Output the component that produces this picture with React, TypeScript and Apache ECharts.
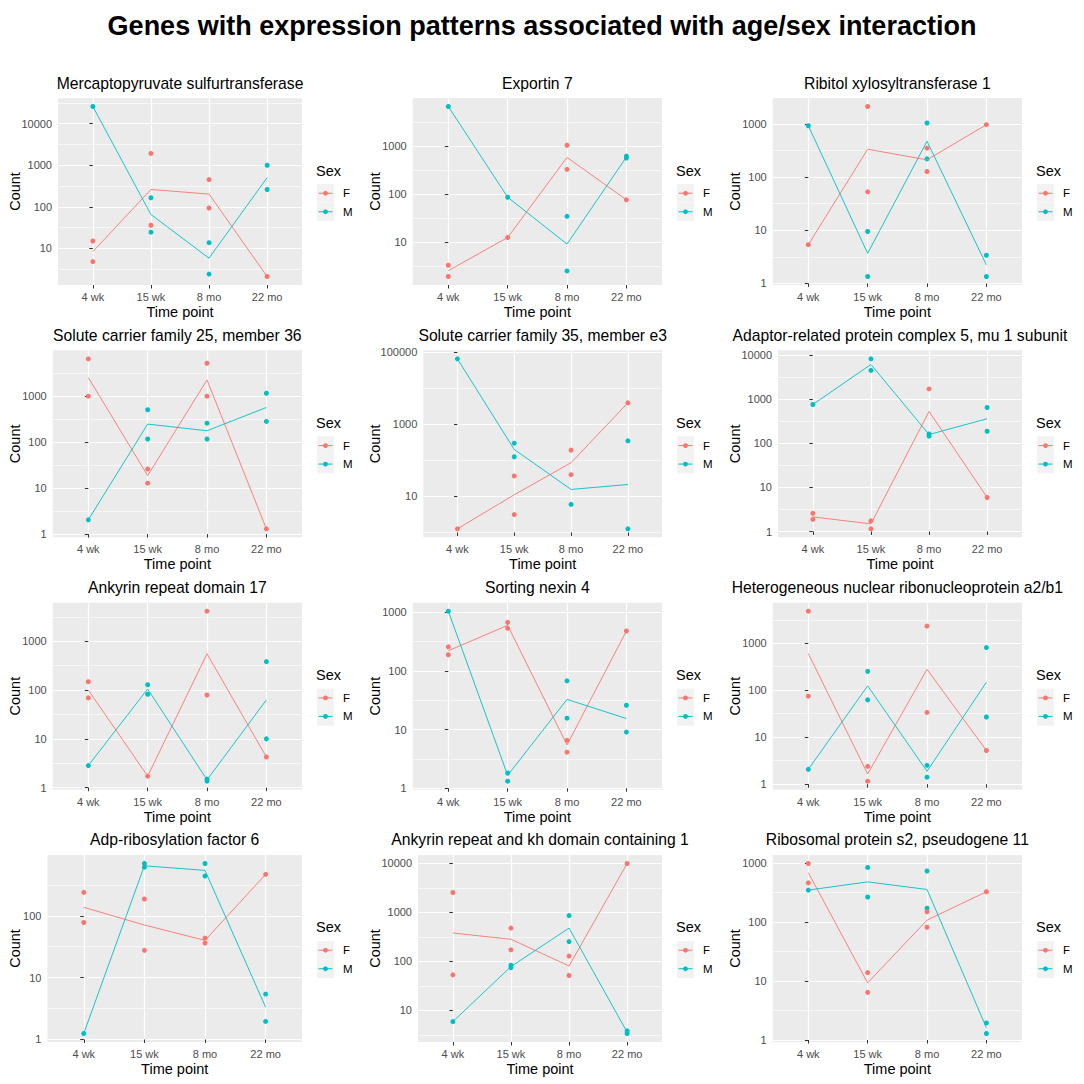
import React, { useEffect, useRef } from "react";
import * as echarts from "echarts";

// ---------- text ----------
const mainTitle = "Genes with expression patterns associated with age/sex interaction";
const categories = ["4 wk", "15 wk", "8 mo", "22 mo"];
const sexes = ["F", "M"];
const xTitle = "Time point";
const yTitle = "Count";
const legendTitle = "Sex";
const geneTitles = [
  "Mercaptopyruvate sulfurtransferase",
  "Exportin 7",
  "Ribitol xylosyltransferase 1",
  "Solute carrier family 25, member 36",
  "Solute carrier family 35, member e3",
  "Adaptor-related protein complex 5, mu 1 subunit",
  "Ankyrin repeat domain 17",
  "Sorting nexin 4",
  "Heterogeneous nuclear ribonucleoprotein a2/b1",
  "Adp-ribosylation factor 6",
  "Ankyrin repeat and kh domain containing 1",
  "Ribosomal protein s2, pseudogene 11",
];

// ---------- data: [time point index, count] ----------
// 1 Mercaptopyruvate sulfurtransferase
const p1F = [[0, 15], [0, 4.8], [1, 1920], [1, 36], [2, 452], [2, 93.5], [3, 2.1]];
const p1M = [[0, 25900], [1, 165], [1, 24.5], [2, 13.7], [2, 2.4], [3, 1000], [3, 261]];
const p1FMean = [8.3, 261, 202, 2.1];
const p1MMean = [25900, 65, 5.8, 505];
const p1Ticks = [10, 100, 1000, 10000];

// 2 Exportin 7
const p2F = [[0, 3.24], [0, 1.89], [1, 12.3], [2, 1030], [2, 324], [3, 75]];
const p2M = [[0, 6620], [1, 85], [2, 34], [2, 2.47], [3, 611], [3, 556]];
const p2FMean = [2.5, 12.3, 574, 75];
const p2MMean = [6620, 85, 8.96, 583];
const p2Ticks = [10, 100, 1000];

// 3 Ribitol xylosyltransferase 1
const p3F = [[0, 5.36], [1, 2140], [1, 53], [2, 351], [2, 128], [3, 972]];
const p3M = [[0, 930], [1, 9.5], [1, 1.35], [2, 1045], [2, 221], [3, 3.39], [3, 1.35]];
const p3FMean = [5.36, 336, 212, 972];
const p3MMean = [930, 3.69, 474, 2.23];
const p3Ticks = [1, 10, 100, 1000];

// 4 Solute carrier family 25, member 36
const p4F = [[0, 6500], [0, 1000], [1, 26], [1, 12.8], [2, 5200], [2, 1000], [3, 1.3]];
const p4M = [[0, 2.04], [1, 506], [1, 117], [2, 259], [2, 117], [3, 1160], [3, 282]];
const p4FMean = [2540, 18.7, 2260, 1.3];
const p4MMean = [2.04, 247, 177, 568];
const p4Ticks = [1, 10, 100, 1000];

// 5 Solute carrier family 35, member e3
const p5F = [[0, 1.26], [1, 37], [1, 3.13], [2, 192], [2, 40], [3, 3950]];
const p5M = [[0, 65600], [1, 300], [1, 126], [2, 6.0], [3, 348], [3, 1.26]];
const p5FMean = [1.26, 11.1, 86, 3950];
const p5MMean = [65600, 201, 15.6, 21.4];
const p5Ticks = [10, 1000, 100000];

// 6 Adaptor-related protein complex 5, mu 1 subunit
const p6F = [[0, 2.58], [0, 1.89], [1, 1.74], [1, 1.15], [2, 1690], [3, 5.9]];
const p6M = [[0, 752], [1, 8130], [1, 4450], [2, 162], [2, 144], [3, 644], [3, 186]];
const p6FMean = [2.14, 1.49, 524, 5.9];
const p6MMean = [752, 6070, 157, 358];
const p6Ticks = [1, 10, 100, 1000, 10000];

// 7 Ankyrin repeat domain 17
const p7F = [[0, 148], [0, 69], [1, 1.72], [2, 4120], [2, 79], [3, 4.25]];
const p7M = [[0, 2.84], [1, 128], [1, 82], [2, 1.5], [2, 1.36], [3, 381], [3, 10]];
const p7FMean = [100, 1.72, 553, 4.25];
const p7MMean = [2.84, 105, 1.45, 62.7];
const p7Ticks = [1, 10, 100, 1000];

// 8 Sorting nexin 4
const p8F = [[0, 257], [0, 188], [1, 670], [1, 530], [2, 6.56], [2, 4.11], [3, 477]];
const p8M = [[0, 1040], [1, 1.82], [1, 1.32], [2, 67.6], [2, 15.6], [3, 25.9], [3, 9.06]];
const p8FMean = [220, 596, 5.47, 477];
const p8MMean = [1040, 1.66, 32.7, 15.4];
const p8Ticks = [1, 10, 100, 1000];

// 9 Heterogeneous nuclear ribonucleoprotein a2/b1
const p9F = [[0, 4820], [0, 74.6], [1, 2.4], [1, 1.16], [2, 2320], [2, 33.7], [3, 5.22]];
const p9M = [[0, 2.07], [1, 252], [1, 62.5], [2, 2.52], [2, 1.41], [3, 810], [3, 26.9]];
const p9FMean = [605, 1.65, 278, 5.22];
const p9MMean = [2.07, 124, 1.88, 148];
const p9Ticks = [1, 10, 100, 1000];

// 10 Adp-ribosylation factor 6
const p10F = [[0, 239], [0, 78], [1, 187], [1, 27.6], [2, 43.5], [2, 36.2], [3, 468]];
const p10M = [[0, 1.25], [1, 701], [1, 612], [2, 701], [2, 440], [3, 5.42], [3, 1.96]];
const p10FMean = [137, 71, 40, 468];
const p10MMean = [1.25, 644, 542, 3.32];
const p10Ticks = [1, 10, 100];

// 11 Ankyrin repeat and kh domain containing 1
const p11F = [[0, 2560], [0, 53.3], [1, 481], [1, 173], [2, 129], [2, 51.7], [3, 10000]];
const p11M = [[0, 5.92], [1, 83.6], [1, 75], [2, 865], [2, 255], [3, 3.84], [3, 3.39]];
const p11FMean = [381, 284, 81, 10000];
const p11MMean = [5.92, 78.6, 481, 3.6];
const p11Ticks = [10, 100, 1000, 10000];

// 12 Ribosomal protein s2, pseudogene 11
const p12F = [[0, 987], [0, 463], [1, 13.9], [1, 6.43], [2, 150], [2, 81.7], [3, 327]];
const p12M = [[0, 349], [1, 846], [1, 267], [2, 735], [2, 172], [3, 1.95], [3, 1.29]];
const p12FMean = [689, 9.33, 108, 327];
const p12MMean = [349, 481, 358, 1.61];
const p12Ticks = [1, 10, 100, 1000];

const panels = [
  { f: p1F, m: p1M, fMean: p1FMean, mMean: p1MMean, ticks: p1Ticks },
  { f: p2F, m: p2M, fMean: p2FMean, mMean: p2MMean, ticks: p2Ticks },
  { f: p3F, m: p3M, fMean: p3FMean, mMean: p3MMean, ticks: p3Ticks },
  { f: p4F, m: p4M, fMean: p4FMean, mMean: p4MMean, ticks: p4Ticks },
  { f: p5F, m: p5M, fMean: p5FMean, mMean: p5MMean, ticks: p5Ticks },
  { f: p6F, m: p6M, fMean: p6FMean, mMean: p6MMean, ticks: p6Ticks },
  { f: p7F, m: p7M, fMean: p7FMean, mMean: p7MMean, ticks: p7Ticks },
  { f: p8F, m: p8M, fMean: p8FMean, mMean: p8MMean, ticks: p8Ticks },
  { f: p9F, m: p9M, fMean: p9FMean, mMean: p9MMean, ticks: p9Ticks },
  { f: p10F, m: p10M, fMean: p10FMean, mMean: p10MMean, ticks: p10Ticks },
  { f: p11F, m: p11M, fMean: p11FMean, mMean: p11MMean, ticks: p11Ticks },
  { f: p12F, m: p12M, fMean: p12FMean, mMean: p12MMean, ticks: p12Ticks },
];

// ---------- styles ----------
const COLOR_F = "#F8766D";
const COLOR_M = "#00BFC4";
const FONT = "'Liberation Sans', Arial, Helvetica, sans-serif";
const PANEL_BG = "#EBEBEB";
const TICK_FONT = 11;

function buildOption() {
  const grids: any[] = [];
  const xAxes: any[] = [];
  const yAxes: any[] = [];
  const series: any[] = [];
  const graphics: any[] = [];

  const colW = 360;
  const rowH = 252.33;
  const panelH = 187;
  const firstTop = 98;
  const panelRight = 302;
  const catIdx = categories.map((_, k) => k);

  graphics.push({
    type: "text",
    x: 542,
    y: 26,
    style: {
      text: mainTitle,
      fontFamily: FONT,
      fontSize: 27,
      fontWeight: "bold",
      fill: "#000",
      align: "center",
      verticalAlign: "middle",
    },
  });

  panels.forEach((p, i) => {
    const col = i % 3;
    const row = Math.floor(i / 3);
    const ox = col * colW;
    const top = firstTop + row * rowH;
    const digits = String(Math.max(...p.ticks)).length;
    const left = ox + 31.5 + 5.3 * digits;
    const width = ox + panelRight - left;
    const cx = left + width / 2;
    const cy = top + panelH / 2;

    const logs = [...p.f, ...p.m].map((d) => Math.log10(d[1]));
    const lo = Math.min(...logs);
    const hi = Math.max(...logs);
    const pad = (hi - lo) * 0.05;
    const yMin = lo - pad;
    const yMax = hi + pad;
    const major = p.ticks.map((t) => Math.log10(t));
    const step = major.length > 1 ? major[1] - major[0] : 1;
    const minor = [major[0] - step / 2, ...major.map((v) => v + step / 2)].filter(
      (v) => v > yMin && v < yMax
    );

    grids.push({
      left,
      top,
      width,
      height: panelH,
      show: true,
      backgroundColor: PANEL_BG,
      borderWidth: 0,
      containLabel: false,
    });

    xAxes.push({
      type: "value",
      gridIndex: i,
      min: -0.6,
      max: 3.6,
      axisLine: { show: false },
      axisTick: {
        show: true,
        length: 3.5,
        lineStyle: { color: "#333333", width: 1 },
        customValues: catIdx,
      },
      axisLabel: {
        customValues: catIdx,
        formatter: (v: number) => categories[Math.round(v)],
        color: "#4D4D4D",
        fontSize: TICK_FONT,
        fontFamily: FONT,
        margin: 6.5,
      },
      splitLine: { show: true, lineStyle: { color: "#FFFFFF", width: 1.2 } },
    });

    yAxes.push({
      type: "value",
      gridIndex: i,
      min: yMin,
      max: yMax,
      position: "left",
      axisLine: { show: false },
      axisTick: {
        show: true,
        length: 3.5,
        lineStyle: { color: "#333333", width: 1 },
        customValues: major,
      },
      axisLabel: {
        customValues: major,
        formatter: (v: number) => String(Math.round(Math.pow(10, v))),
        color: "#4D4D4D",
        fontSize: TICK_FONT,
        fontFamily: FONT,
        margin: 6,
      },
      splitLine: { show: true, lineStyle: { color: "#FFFFFF", width: 1.2 } },
    });
    yAxes.push({
      type: "value",
      gridIndex: i,
      min: yMin,
      max: yMax,
      position: "left",
      axisLine: { show: false },
      axisTick: { show: false, customValues: minor },
      axisLabel: { show: false, customValues: minor },
      splitLine: { show: true, lineStyle: { color: "#FFFFFF", width: 0.6 } },
    });

    const toXY = (d: number[]) => [d[0], Math.log10(d[1])];
    series.push({
      type: "line",
      name: sexes[0],
      xAxisIndex: i,
      yAxisIndex: 2 * i,
      data: p.fMean.map((v, k) => [k, Math.log10(v)]),
      symbol: "none",
      showSymbol: false,
      lineStyle: { color: COLOR_F, width: 0.9 },
      itemStyle: { color: COLOR_F },
      silent: true,
    });
    series.push({
      type: "line",
      name: sexes[1],
      xAxisIndex: i,
      yAxisIndex: 2 * i,
      data: p.mMean.map((v, k) => [k, Math.log10(v)]),
      symbol: "none",
      showSymbol: false,
      lineStyle: { color: COLOR_M, width: 0.9 },
      itemStyle: { color: COLOR_M },
      silent: true,
    });
    series.push({
      type: "scatter",
      name: sexes[1],
      xAxisIndex: i,
      yAxisIndex: 2 * i,
      data: p.m.map(toXY),
      symbol: "circle",
      symbolSize: 5,
      itemStyle: { color: COLOR_M, opacity: 1 },
      silent: true,
    });
    series.push({
      type: "scatter",
      name: sexes[0],
      xAxisIndex: i,
      yAxisIndex: 2 * i,
      data: p.f.map(toXY),
      symbol: "circle",
      symbolSize: 5,
      itemStyle: { color: COLOR_F, opacity: 1 },
      silent: true,
    });

    // panel title
    graphics.push({
      type: "text",
      x: cx,
      y: top - 15,
      style: {
        text: geneTitles[i],
        fontFamily: FONT,
        fontSize: 15.7,
        fill: "#000",
        align: "center",
        verticalAlign: "middle",
      },
    });
    // x axis title
    graphics.push({
      type: "text",
      x: cx,
      y: top + panelH + 27,
      style: {
        text: xTitle,
        fontFamily: FONT,
        fontSize: 14.5,
        fill: "#000",
        align: "center",
        verticalAlign: "middle",
      },
    });
    // y axis title
    graphics.push({
      type: "text",
      x: ox + 14.5,
      y: cy,
      rotation: Math.PI / 2,
      style: {
        text: yTitle,
        fontFamily: FONT,
        fontSize: 14.5,
        fill: "#000",
        align: "center",
        verticalAlign: "middle",
      },
    });
    // legend
    graphics.push({
      type: "text",
      x: ox + 316,
      y: cy - 21,
      style: {
        text: legendTitle,
        fontFamily: FONT,
        fontSize: 14.5,
        fill: "#000",
        align: "left",
        verticalAlign: "middle",
      },
    });
    sexes.forEach((s, k) => {
      const color = k === 0 ? COLOR_F : COLOR_M;
      const ky = cy - 7.5 + k * 18.5;
      const kc = ky + 9.25;
      graphics.push({
        type: "rect",
        shape: { x: ox + 317, y: ky, width: 17, height: 18.5 },
        style: { fill: "#F2F2F2" },
      });
      graphics.push({
        type: "line",
        shape: { x1: ox + 318.5, y1: kc, x2: ox + 332.5, y2: kc },
        style: { stroke: color, lineWidth: 1 },
      });
      graphics.push({
        type: "circle",
        shape: { cx: ox + 325.5, cy: kc, r: 2.4 },
        style: { fill: color },
      });
      graphics.push({
        type: "text",
        x: ox + 343,
        y: kc,
        style: {
          text: s,
          fontFamily: FONT,
          fontSize: 11.5,
          fill: "#000",
          align: "left",
          verticalAlign: "middle",
        },
      });
    });
  });

  return {
    animation: false,
    backgroundColor: "#FFFFFF",
    textStyle: { fontFamily: FONT },
    grid: grids,
    xAxis: xAxes,
    yAxis: yAxes,
    series,
    graphic: graphics,
  };
}

export default function App() {
  const ref = useRef<HTMLDivElement>(null);
  useEffect(() => {
    if (!ref.current) return;
    const chart = echarts.init(ref.current, undefined, { renderer: "svg" });
    chart.setOption(buildOption());
    return () => {
      chart.dispose();
    };
  }, []);
  return (
    <div
      ref={ref}
      style={{ position: "absolute", left: 0, top: 0, width: 1084, height: 1084, background: "#fff" }}
    />
  );
}
